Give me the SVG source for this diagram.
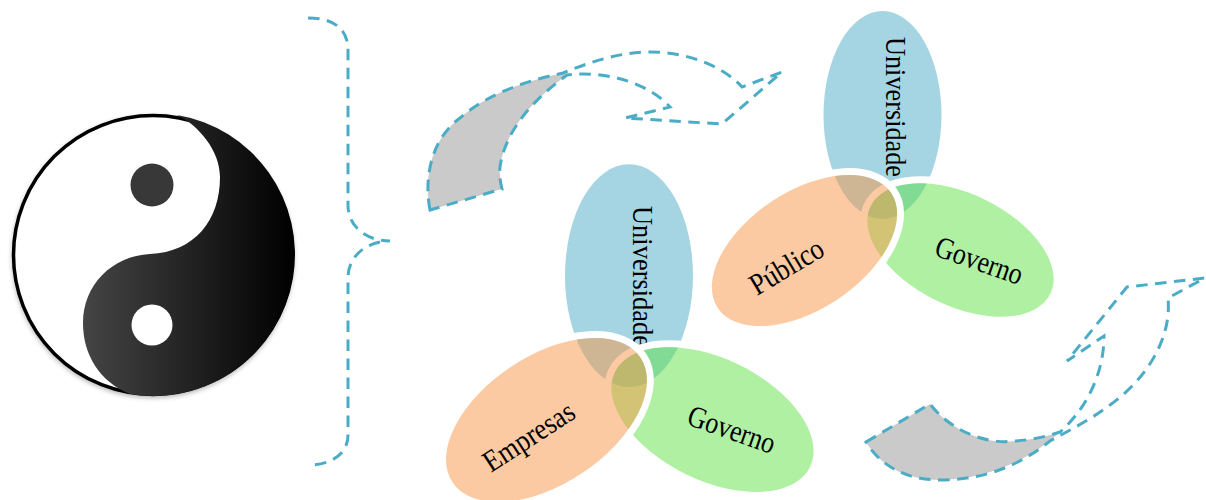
<svg xmlns="http://www.w3.org/2000/svg" width="1206" height="500" viewBox="0 0 1206 500">
<style>
.dash{fill:none;stroke:#4bacc6;stroke-width:3;stroke-dasharray:11.500 7.500}
.tail{fill:#cacaca;stroke:none}
.ring{fill:none;stroke:#fff;stroke-width:7}
.b{fill:#4bacc6;fill-opacity:.5}
.g{fill:#5fe147;fill-opacity:.5}
.o{fill:#f79646;fill-opacity:.5}
text{font-family:"Liberation Serif","Times New Roman",serif;fill:#000;font-size:26.5px}
</style>
<defs>
<linearGradient id="yy" gradientUnits="userSpaceOnUse" x1="83" y1="0" x2="294" y2="0">
<stop offset="0" stop-color="#454545"/><stop offset="1" stop-color="#000"/>
</linearGradient>
<filter id="soft" x="-10%" y="-10%" width="120%" height="120%"><feGaussianBlur stdDeviation="2.5"/></filter>
</defs>
<g id="yin-yang">
<circle cx="153" cy="257" r="141" fill="#000" opacity=".3" filter="url(#soft)"/>
<circle cx="153" cy="255" r="139.500" fill="#fff" stroke="#000" stroke-width="3.500"/>
<path d="M177,115 C198,125 220,150 220,177 C220,220 195,252 150,254 C112,256 83,285 83,323 C83,355 100,382 130,394 A141,141 0 0 0 177,115 Z" fill="url(#yy)"/>
<circle cx="152" cy="185" r="21.500" fill="#383838"/>
<circle cx="152" cy="325" r="20.500" fill="#fff"/>
</g>
<g id="connectors">
<path id="brace" class="dash" d="M308,18 C335,18 348,30 348,50 L348,205 C348,228 368,241 390,241 C368,241 348,255 348,278 L348,435 C348,455 330,465 308,465"/>
<path class="tail" d="M430,210 C424,180 430,140 460,118 C490,92 530,80 563,73 L567,75 C535,98 505,130 500,167 Q499,178 502,189 Z"/>
<path id="arrow-top" class="dash" d="M430,210 C424,180 430,140 460,118 C490,92 530,80 563,73 C590,62 620,52 650,52 C690,52 725,68 742,87 L782,72 L722,124 L625,118 L670,107 C650,85 610,70 567,75 C535,98 505,130 500,167 Q499,178 502,189 Z"/>
<path class="tail" d="M866,442 L930,404 C950,430 985,445 1015,441 C1030,440 1045,437 1060,432 C1030,460 985,480 940,480 C905,480 880,465 866,442 Z"/>
<path id="arrow-bottom" class="dash" d="M866,442 L930,404 C950,430 985,445 1015,441 C1030,440 1045,437 1060,432 C1085,410 1104,375 1104,336 L1067,361 L1127,287 L1205,278 L1168,298 C1172,340 1145,380 1110,405 C1090,420 1070,430 1050,441 C1020,465 985,480 940,480 C905,480 880,465 866,442 Z"/>
</g>
<g id="top-universidade">
<ellipse class="b" cx="882.500" cy="115" rx="59" ry="104"/>
<text transform="translate(886,37) rotate(90) scale(1,1.150)" textLength="140" lengthAdjust="spacingAndGlyphs">Universidade</text>
</g>
<g id="top-governo">
<ellipse class="ring" cx="960.500" cy="250" rx="103.500" ry="59.500" transform="rotate(26 960.500 250)"/>
<ellipse class="g" cx="960.500" cy="250" rx="100" ry="56" transform="rotate(26 960.500 250)"/>
<text transform="translate(933,255) rotate(19.400) scale(.98,1.150)">Governo</text>
</g>
<g id="top-publico">
<ellipse class="ring" cx="804.500" cy="250.500" rx="107.500" ry="62.500" transform="rotate(-33.500 804.500 250.500)"/>
<ellipse class="o" cx="804.500" cy="250.500" rx="104" ry="59" transform="rotate(-33.500 804.500 250.500)"/>
<text transform="translate(757,296) rotate(-31) scale(1,1.150)">Público</text>
</g>
<g id="bottom-universidade">
<ellipse class="b" cx="629" cy="275.700" rx="64" ry="111.500"/>
<text transform="translate(633,206) rotate(90) scale(1,1.150)" textLength="141" lengthAdjust="spacingAndGlyphs">Universidade</text>
</g>
<g id="bottom-governo">
<ellipse class="ring" cx="712.500" cy="419.500" rx="112" ry="64.300" transform="rotate(26 712.500 419.500)"/>
<ellipse class="g" cx="712.500" cy="419.500" rx="108.500" ry="60.800" transform="rotate(26 712.500 419.500)"/>
<text transform="translate(685.500,424) rotate(19.300) scale(.98,1.150)">Governo</text>
</g>
<g id="bottom-empresas">
<ellipse class="ring" cx="546.500" cy="420" rx="116.300" ry="67.500" transform="rotate(-33.500 546.500 420)"/>
<ellipse class="o" cx="546.500" cy="420" rx="112.800" ry="64" transform="rotate(-33.500 546.500 420)"/>
<text transform="translate(491,473) rotate(-33) scale(1,1.150)">Empresas</text>
</g>
</svg>
